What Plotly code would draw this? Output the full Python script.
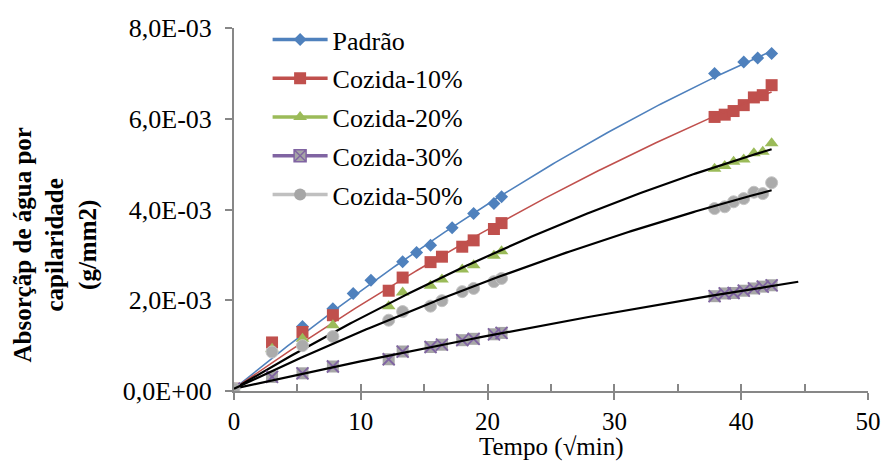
import numpy as np
import plotly.graph_objects as go

# Capillary water absorption vs. square root of time
x_padrao = [0, 5.4, 7.8, 9.4, 10.8, 13.3, 14.4, 15.5, 17.2, 18.9, 20.5, 21.1, 37.9, 40.2, 41.3, 42.4]
y_padrao = [0.05, 1.42, 1.81, 2.15, 2.44, 2.85, 3.05, 3.21, 3.60, 3.91, 4.13, 4.28, 7.00, 7.25, 7.34, 7.44]

x_cozida = [0, 3.0, 5.4, 7.8, 12.2, 13.3, 15.5, 16.4, 18.0, 18.9, 20.5, 21.1,
            37.9, 38.7, 39.4, 40.2, 41.0, 41.7, 42.4]
y_c10 = [0.05, 1.07, 1.30, 1.67, 2.21, 2.50, 2.84, 2.96, 3.18, 3.32, 3.57, 3.70,
         6.04, 6.09, 6.17, 6.30, 6.47, 6.52, 6.74]
y_c20 = [0.05, 0.93, 1.15, 1.45, 1.87, 2.17, 2.32, 2.46, 2.68, 2.77, 2.98, 3.08,
         4.90, 4.96, 5.05, 5.10, 5.24, 5.27, 5.46]
y_c30 = [0.05, 0.31, 0.39, 0.54, 0.70, 0.87, 0.97, 1.02, 1.12, 1.15, 1.25, 1.28,
         2.09, 2.15, 2.16, 2.21, 2.26, 2.30, 2.33]
y_c50 = [0.05, 0.86, 1.00, 1.20, 1.56, 1.75, 1.87, 1.99, 2.19, 2.26, 2.41, 2.48,
         4.02, 4.06, 4.17, 4.24, 4.38, 4.35, 4.59]

y_tickvals = [0, 2e-3, 4e-3, 6e-3, 8e-3]
y_ticktext = ["0,0E+00", "2,0E-03", "4,0E-03", "6,0E-03", "8,0E-03"]

SCALE = 1e-3  # values above are given in 10^-3 g/mm2
FONT = "Liberation Serif, Times New Roman, serif"
AXIS_GREY = "#878787"

series = [
    # name, x, y, colour, symbol, size, trend colour, trend width, forward extension
    ("Padrão", x_padrao, y_padrao, "#4F81BD", "diamond", 10, "#4F81BD", 1.6, 0.0),
    ("Cozida-10%", x_cozida, y_c10, "#C0504D", "square", 12, "#C0504D", 1.6, 0.0),
    ("Cozida-20%", x_cozida, y_c20, "#9BBB59", "triangle-up", 12, "black", 2.2, 0.0),
    ("Cozida-30%", x_cozida, y_c30, "#8064A2", "square", 12, "black", 2.2, 2.1),
    ("Cozida-50%", x_cozida, y_c50, "#A5A5A5", "circle", 12, "black", 2.2, 0.0),
]


def trend(x, y, extend):
    """Second-order polynomial trend anchored at the first reading."""
    x = np.asarray(x, float)
    y = np.asarray(y, float)
    A = np.column_stack([x, x ** 2])
    coef, *_ = np.linalg.lstsq(A, y - y[0], rcond=None)
    xs = np.linspace(x.min(), x.max() + extend, 200)
    return xs, y[0] + coef[0] * xs + coef[1] * xs ** 2


fig = go.Figure()

for name, x, y, col, sym, size, tcol, tw, ext in series:
    ys = np.asarray(y) * SCALE
    # markers
    if name == "Cozida-30%":
        fig.add_trace(go.Scatter(x=x, y=ys, mode="markers", showlegend=False,
                                 marker=dict(symbol="square", size=size, color="#A6A6A6",
                                             line=dict(width=0))))
        fig.add_trace(go.Scatter(x=x, y=ys, mode="markers", showlegend=False,
                                 marker=dict(symbol="x-thin-open", size=size, color=col,
                                             line=dict(width=1.8, color=col))))
    elif name == "Cozida-50%":
        fig.add_trace(go.Scatter(x=x, y=ys, mode="markers", showlegend=False,
                                 marker=dict(symbol=sym, size=size, color="#ABABAB",
                                             line=dict(width=1, color="#C4C4C4"))))
    else:
        fig.add_trace(go.Scatter(x=x, y=ys, mode="markers", showlegend=False,
                                 marker=dict(symbol=sym, size=size, color=col,
                                             line=dict(width=0))))
    # trend line
    xs, yt = trend(x, y, ext)
    fig.add_trace(go.Scatter(x=xs, y=yt * SCALE, mode="lines", showlegend=False,
                             line=dict(color=tcol, width=tw), hoverinfo="skip"))

# legend entries
for i, (name, x, y, col, sym, size, tcol, tw, ext) in enumerate(series):
    if name == "Cozida-30%":
        mk = dict(symbol="square-x", size=12, color="#A6A6A6", line=dict(width=1.5, color=col))
        lc = col
    elif name == "Cozida-50%":
        mk = dict(symbol="circle", size=12, color="#A6A6A6", line=dict(width=0))
        lc = "#C0C0C0"
    else:
        mk = dict(symbol=sym, size=size, color=col, line=dict(width=0))
        lc = col
    fig.add_trace(go.Scatter(x=[None], y=[None], mode="lines+markers", name=name,
                             legendgroup=str(i), line=dict(color=lc, width=3.5), marker=mk))

fig.update_layout(
    width=893, height=461,
    margin=dict(l=234, r=16, t=28, b=70),
    paper_bgcolor="white", plot_bgcolor="white",
    font=dict(family=FONT, size=25, color="black"),
    showlegend=True,
    legend=dict(x=0.053, y=(391 - 16) / 363, xanchor="left", yanchor="top",
                bgcolor="rgba(0,0,0,0)", font=dict(family=FONT, size=26),
                itemwidth=55, tracegroupgap=2, traceorder="grouped"),
    xaxis=dict(range=[0, 50], dtick=10, tick0=0, showgrid=False, zeroline=False,
               showline=True, linecolor=AXIS_GREY, linewidth=2,
               ticks="outside", ticklen=7, tickwidth=2, tickcolor=AXIS_GREY,
               tickfont=dict(family=FONT, size=25), ticklabelstandoff=0),
    xaxis2=dict(range=[0, 50], dtick=5, tick0=0, overlaying="x", side="bottom",
                anchor="y", showgrid=False, zeroline=False, showline=False,
                ticks="inside", ticklen=7, tickwidth=2, tickcolor=AXIS_GREY,
                showticklabels=False),
    yaxis=dict(range=[0, 8e-3], tickvals=y_tickvals, ticktext=y_ticktext,
               showgrid=False, zeroline=False, showline=True, linecolor=AXIS_GREY,
               linewidth=2, ticks="outside", ticklen=7, tickwidth=2, tickcolor=AXIS_GREY,
               tickfont=dict(family=FONT, size=26), ticklabelstandoff=8),
)

# dummy trace so the overlaid axis with the minor ticks is drawn
fig.add_trace(go.Scatter(x=[None], y=[None], xaxis="x2", showlegend=False))

fig.add_annotation(text="Tempo (√min)", xref="paper", yref="paper",
                   x=0.5, y=(391 - 447) / 363, xanchor="center", yanchor="middle",
                   showarrow=False, font=dict(family=FONT, size=25))
fig.add_annotation(text="<b>Absorçãp de água por<br>capilaridade<br>(g/mm2)</b>",
                   xref="paper", yref="paper", x=(53 - 234) / 643, y=(391 - 245) / 363,
                   xanchor="center", yanchor="middle", textangle=-90, showarrow=False,
                   font=dict(family=FONT, size=25))

fig.write_html("out.html")
